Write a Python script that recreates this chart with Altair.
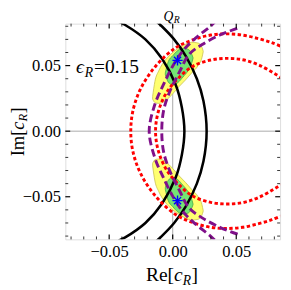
import altair as alt
import pandas as pd

W, H = 221, 222
XDOM = [-0.0845, 0.0845]
YDOM = [-0.0825, 0.0820]

# ---- curves (upper half; the figure is mirror-symmetric about Im=0)
black_a_x = [0.0092, 0.0072, 0.0025, -0.0082, -0.0215, -0.0374, -0.0426]
black_a_y = [0.0000, 0.0180, 0.0350, 0.0550, 0.0700, 0.0810, 0.0835]
black_b_x = [0.0267, 0.0242, 0.0190, 0.0102, 0.0011, -0.0086, -0.0126]
black_b_y = [0.0000, 0.0230, 0.0400, 0.0575, 0.0700, 0.0800, 0.0835]

red_outer_x = [-0.0330, -0.0312, -0.0250, -0.0130, 0.0025, 0.0168, 0.0300, 0.0420, 0.0550, 0.0677, 0.0780, 0.0870]
red_outer_y = [0.0000, 0.0160, 0.0328, 0.0501, 0.0637, 0.0700, 0.0733, 0.0742, 0.0733, 0.0705, 0.0675, 0.0640]
red_inner_x = [-0.0135, -0.0113, -0.0045, 0.0072, 0.0168, 0.0300, 0.0420, 0.0550, 0.0677, 0.0817, 0.0870]
red_inner_y = [0.0000, 0.0150, 0.0300, 0.0430, 0.0500, 0.0543, 0.0555, 0.0545, 0.0505, 0.0430, 0.0400]

purple_outer_x = [-0.0185, -0.0140, -0.0074, 0.0003, 0.0079, 0.0168, 0.0295, 0.0330]
purple_outer_y = [0.0000, 0.0205, 0.0353, 0.0501, 0.0612, 0.0699, 0.0798, 0.0830]
purple_inner_x = [-0.0086, -0.0072, -0.0028, 0.0053, 0.0130, 0.0232, 0.0375, 0.0511]
purple_inner_y = [0.0000, 0.0156, 0.0291, 0.0452, 0.0587, 0.0661, 0.0735, 0.0785]

# ---- confidence regions (upper one; lower one is its mirror image)
yellow_x = [-0.0158, -0.0140, -0.0110, -0.0060, 0.0000, 0.0050, 0.0100, 0.0150, 0.0200, 0.0230, 0.0240]
yellow_lo = [0.0245, 0.0218, 0.0212, 0.0230, 0.0285, 0.0340, 0.0390, 0.0445, 0.0500, 0.0560, 0.0605]
yellow_hi = [0.0265, 0.0380, 0.0460, 0.0540, 0.0600, 0.0635, 0.0662, 0.0678, 0.0672, 0.0640, 0.0610]
green_x = [-0.0058, -0.0035, 0.0000, 0.0040, 0.0080, 0.0120, 0.0145, 0.0160]
green_lo = [0.0430, 0.0375, 0.0352, 0.0370, 0.0412, 0.0460, 0.0505, 0.0555]
green_hi = [0.0445, 0.0530, 0.0575, 0.0615, 0.0632, 0.0625, 0.0598, 0.0560]

star_x = [0.0038, 0.0038]
star_y = [0.0540, -0.0530]

tick_labels = [-0.05, 0.0, 0.05]
major_ticks = [-0.05, 0.0, 0.05]
minor_ticks = [-0.08, -0.07, -0.06, -0.04, -0.03, -0.02, -0.01, 0.01, 0.02, 0.03, 0.04, 0.06, 0.07, 0.08]

SERIF = "Liberation Serif"
xs = alt.Scale(domain=XDOM, nice=False, zero=False)
ys = alt.Scale(domain=YDOM, nice=False, zero=False)
AX = dict(values=tick_labels, format=".2f", grid=False, ticks=False, domain=False,
          labelFont=SERIF, labelFontSize=17, labelColor="black",
          labelPadding=5, title=None)
x_axis = alt.Axis(**AX)
y_axis = alt.Axis(**AX)


def X(field):
    return alt.X(field, scale=xs, axis=x_axis)


def Y(field):
    return alt.Y(field, scale=ys, axis=y_axis)


def mirrored(name, cx, cy):
    xx = cx[::-1] + cx[1:]
    yy = [-v for v in cy[::-1]] + cy[1:]
    return pd.DataFrame({"x": xx, "y": yy, "curve": name, "i": list(range(len(xx)))})


def line_layer(df, color, width, dash=None):
    kw = dict(color=color, strokeWidth=width, clip=True, interpolate="catmull-rom")
    if dash:
        kw["strokeDash"] = dash
    return alt.Chart(df).mark_line(**kw).encode(
        x=X("x:Q"), y=Y("y:Q"), detail="curve:N", order="i:Q")


def region_df(name, rx, lo, hi):
    top = pd.DataFrame({"x": rx, "lo": lo, "hi": hi, "region": name + "_top"})
    bot = pd.DataFrame({"x": rx, "lo": [-v for v in hi], "hi": [-v for v in lo], "region": name + "_bot"})
    return pd.concat([top, bot], ignore_index=True)


def area_layer(df, fill, stroke):
    return alt.Chart(df).mark_area(fill=fill, stroke=stroke, strokeWidth=0.8, clip=True,
                                   interpolate="monotone").encode(
        x=X("x:Q"), y=Y("lo:Q"), y2="hi:Q", detail="region:N")


def label(text, px, py, size, italic=False, angle=0):
    kw = dict(text=text, font=SERIF, fontSize=size, align="left",
              baseline="alphabetic", color="black")
    if italic:
        kw["fontStyle"] = "italic"
    if angle:
        kw["angle"] = angle
    return alt.Chart(alt.Data(values=[{"a": 1}])).mark_text(**kw).encode(
        x=alt.value(px), y=alt.value(py))


zero_df = pd.DataFrame({"v": [0.0]})
grid_v = alt.Chart(zero_df).mark_rule(color="#a8a8a8", strokeWidth=1).encode(x=X("v:Q"))
grid_h = alt.Chart(zero_df).mark_rule(color="#a8a8a8", strokeWidth=1).encode(y=Y("v:Q"))

yellow = area_layer(region_df("y", yellow_x, yellow_lo, yellow_hi), "#FFFF70", "#C8C050")
green = area_layer(region_df("g", green_x, green_lo, green_hi), "#74E474", "#44A844")

black = line_layer(pd.concat([mirrored("a", black_a_x, black_a_y),
                              mirrored("b", black_b_x, black_b_y)]), "black", 2.6)
red = line_layer(pd.concat([mirrored("ro", red_outer_x, red_outer_y),
                            mirrored("ri", red_inner_x, red_inner_y)]), "#FF0000", 3, [3.5, 2.5])
purple = line_layer(pd.concat([mirrored("po", purple_outer_x, purple_outer_y),
                               mirrored("pi", purple_inner_x, purple_inner_y)]), "#80108A", 3, [8, 4])

star_path = "M-1,0L1,0M0,-1L0,1M-0.7,-0.7L0.7,0.7M-0.7,0.7L0.7,-0.7"
stars = alt.Chart(pd.DataFrame({"x": star_x, "y": star_y})).mark_point(
    shape=star_path, size=110, filled=False, stroke="#0000FF", strokeWidth=1.4, opacity=1
).encode(x=X("x:Q"), y=Y("y:Q"))


def frame_ticks(values, length, width):
    df = pd.DataFrame({"v": values})
    base = alt.Chart(df).mark_rule(color="black", strokeWidth=width)
    return [
        base.encode(x=X("v:Q"), y=alt.value(H), y2=alt.value(H - length)),
        base.encode(x=X("v:Q"), y=alt.value(0), y2=alt.value(length)),
        base.encode(y=Y("v:Q"), x=alt.value(0), x2=alt.value(length)),
        base.encode(y=Y("v:Q"), x=alt.value(W), x2=alt.value(W - length)),
    ]


texts = [
    # top frame label Q_R
    label("Q", 101, -2.8, 14, italic=True),
    label("R", 111.5, -0.8, 10, italic=True),
    # bottom: Re[c_R]
    label("Re[", 83, 265, 20),
    label("c", 111.9, 265, 20, italic=True),
    label("R", 120.8, 269, 14, italic=True),
    label("]", 129.8, 265, 20),
    # left: Im[c_R]
    label("Im[", -43, 136.5, 19, angle=270),
    label("c", -43, 109.1, 19, italic=True, angle=270),
    label("R", -39.5, 100.6, 13, italic=True, angle=270),
    label("]", -43, 92.5, 19, angle=270),
    # epsilon label
    label("ϵ", 11, 51, 20, italic=True),
    label("R", 20, 55, 14, italic=True),
    label("=0.15", 29.5, 51, 20),
]

layers = [grid_v, grid_h, yellow, green, black, red, purple, stars]
layers += frame_ticks(major_ticks, 5, 1.2)
layers += frame_ticks(minor_ticks, 3, 0.8)
layers += texts

chart = alt.layer(*layers).properties(
    width=W, height=H,
    padding={"left": 59, "top": 12, "right": 3, "bottom": 48},
    autosize=alt.AutoSizeParams(type="none"),
).configure_view(stroke="black", strokeWidth=2.5).configure_axis(
    labelFont=SERIF, labelFontSize=17, labelColor="black"
).configure(background="white")

chart.save("out.html", embed_options={"renderer": "svg", "actions": False})
